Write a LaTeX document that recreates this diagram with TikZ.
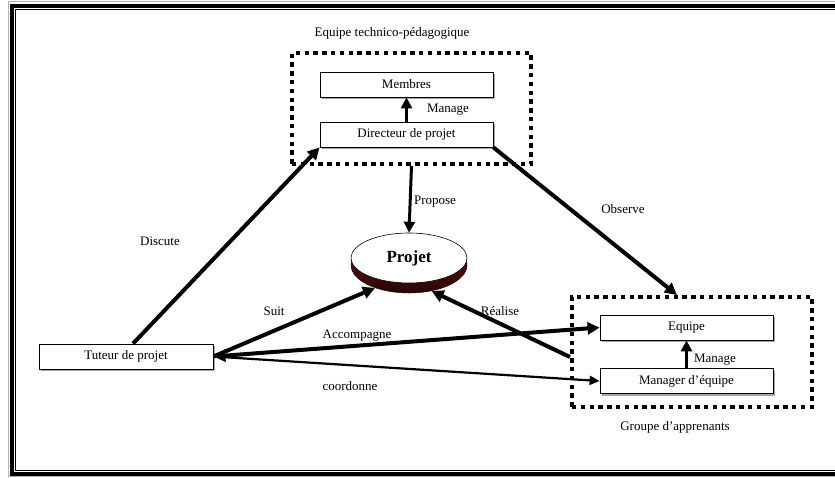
\documentclass[tikz,border=0pt]{standalone}
\usepackage{fontspec}
\setmainfont{Liberation Serif}
\usetikzlibrary{arrows.meta,shadows,shapes.geometric}
\definecolor{bowltop}{RGB}{120,20,20}
\definecolor{bowlbot}{RGB}{40,5,5}
\begin{document}
\begin{tikzpicture}[x=1pt,y=-1pt, font=\fontsize{13}{15}\selectfont,
  box/.style={draw, line width=0.8pt, fill=white, minimum width=173pt, minimum height=25pt, inner sep=0pt,
    drop shadow={shadow xshift=2pt, shadow yshift=-2pt, fill=gray!70, opacity=1}},
  grp/.style={draw, line width=4pt, dash pattern=on 4.4pt off 4.4pt, inner sep=0pt},
  arr/.style={line width=4pt, -{Triangle[length=12pt,width=12pt]}},
  arrm/.style={line width=3pt, -{Triangle[length=11pt,width=11pt]}},
  arrt/.style={line width=2.2pt, -{Triangle[length=10pt,width=9pt]}},
  lbl/.style={inner sep=0pt}]
\useasboundingbox (0,0) rectangle (835,477);
% frame
\draw[gray!60, line width=0.6pt] (8.5,1.5) rectangle (850,476.5);
\draw[line width=4pt] (12,5.5) rectangle (850,473.5);
\draw[line width=0.8pt] (15.5,9) rectangle (850,470);
% group boxes
\node[grp, minimum width=239pt, minimum height=111pt] (teq) at (411.5,108.5) {};
\node[grp, minimum width=240pt, minimum height=110pt] (grp) at (692,352) {};
\node[lbl] (teqlbl) at (392,33) {Equipe technico-pédagogique};
\node[lbl] (grplbl) at (675,427) {Groupe d’apprenants};
% boxes
\node[box] (mem) at (406.5,84.5) {Membres};
\node[box] (dir) at (406.5,134.5) {Directeur de projet};
\node[box] (equ) at (686.5,327.5) {Equipe};
\node[box] (man) at (686.5,381) {Manager d’équipe};
\node[box, minimum width=174pt] (tut) at (126,356.5) {Tuteur de projet};
% projet
\node[ellipse, minimum width=116pt, minimum height=56pt, inner sep=0pt, draw=bowlbot, line width=0.5pt,
  top color=bowltop, bottom color=bowlbot] (bowl) at (409,265) {};
\node[ellipse, draw, line width=0.6pt, fill=white, minimum width=116pt, minimum height=50pt, inner sep=0pt]
  (proj) at (409,258) {\bfseries\fontsize{17}{19}\selectfont Projet};
% arrows
\draw[arrm] (dir.north) -- (mem.south);
\draw[arrm] (man.north) -- (equ.south);
\draw[arrm] (teq.south) -- (proj.north);
\draw[arr] ([xshift=7pt]tut.north) -- (dir.south west);
\draw[arr] (dir.south east) -- ([xshift=-15pt]grp.north);
\draw[arr] (tut.east) -- (bowl.214);
\draw[arr] ([yshift=-5pt]grp.west) -- (bowl.311);
\draw[line width=4pt, {Triangle[length=12pt,width=12pt]}-{Triangle[length=12pt,width=12pt]}] (tut.east) -- (equ.west);
\draw[arrt] (tut.east) -- (man.west);
% labels
\node[lbl] at (448,110) {Manage};
\node[lbl] at (715,360) {Manage};
\node[lbl] at (435,202) {Propose};
\node[lbl] at (623,209) {Observe};
\node[lbl] at (160,241) {Discute};
\node[lbl] at (274,311) {Suit};
\node[lbl] at (500,311) {Réalise};
\node[lbl] at (357,336) {Accompagne};
\node[lbl] at (350,386) {coordonne};
\end{tikzpicture}
\end{document}
